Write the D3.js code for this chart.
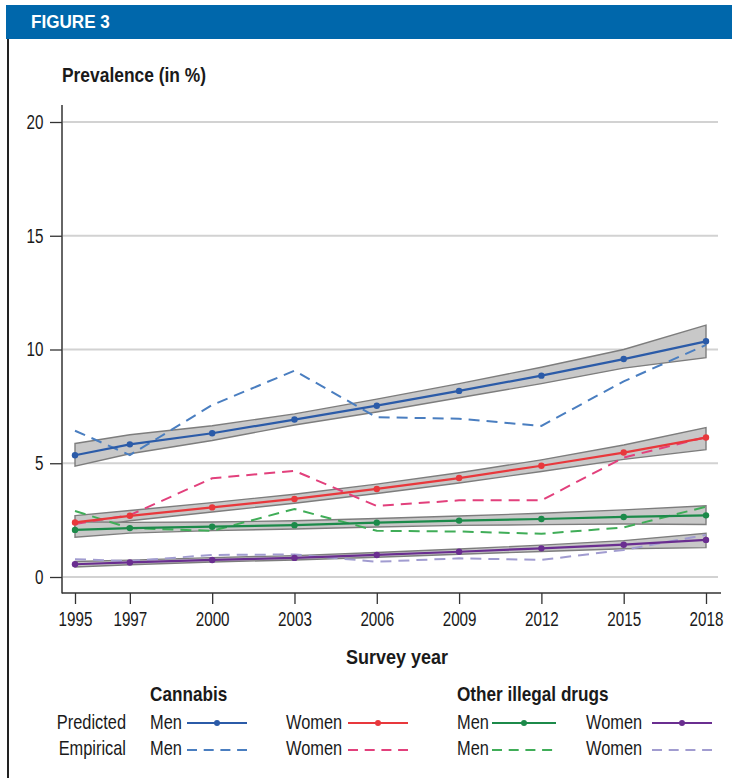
<!DOCTYPE html>
<html>
<head>
<meta charset="utf-8">
<script src="https://cdn.jsdelivr.net/npm/d3@7"></script>
<style>
  html, body { margin: 0; padding: 0; background: #fff; }
  svg { display: block; }
  text { font-family: "Liberation Sans", Arial, Helvetica, sans-serif; fill: #1a1a1a; }
</style>
</head>
<body>
<svg id="chart" width="732" height="778"></svg>
<script>
// Survey years and prevalence estimates (in %)
const years = [1995, 1997, 2000, 2003, 2006, 2009, 2012, 2015, 2018];
const yTicks = [0, 5, 10, 15, 20];

const cannabisMenPred  = [5.35, 5.83, 6.32, 6.92, 7.53, 8.18, 8.85, 9.58, 10.36];
const cannabisMenLo    = [4.87, 5.42, 6.00, 6.68, 7.25, 7.88, 8.50, 9.18, 9.64];
const cannabisMenHi    = [5.87, 6.25, 6.65, 7.17, 7.82, 8.50, 9.22, 10.00, 11.07];
const cannabisMenEmp   = [6.43, 5.36, 7.56, 9.07, 7.02, 6.96, 6.64, 8.60, 10.20];

const cannabisWomenPred = [2.40, 2.69, 3.06, 3.43, 3.87, 4.35, 4.89, 5.47, 6.13];
const cannabisWomenLo   = [2.10, 2.47, 2.86, 3.24, 3.67, 4.13, 4.64, 5.17, 5.60];
const cannabisWomenHi   = [2.70, 2.92, 3.27, 3.64, 4.08, 4.58, 5.15, 5.80, 6.57];
const cannabisWomenEmp  = [2.33, 2.72, 4.34, 4.67, 3.12, 3.37, 3.37, 5.25, 6.15];

const otherMenPred = [2.07, 2.15, 2.21, 2.28, 2.39, 2.48, 2.55, 2.64, 2.71];
const otherMenLo   = [1.75, 1.93, 2.04, 2.11, 2.20, 2.27, 2.30, 2.33, 2.31];
const otherMenHi   = [2.43, 2.40, 2.42, 2.47, 2.57, 2.68, 2.80, 2.95, 3.13];
const otherMenEmp  = [2.90, 2.15, 2.03, 2.99, 2.03, 2.00, 1.90, 2.18, 3.09];

const otherWomenPred = [0.56, 0.64, 0.75, 0.84, 0.97, 1.11, 1.26, 1.42, 1.63];
const otherWomenLo   = [0.44, 0.54, 0.66, 0.75, 0.87, 1.00, 1.12, 1.24, 1.29];
const otherWomenHi   = [0.68, 0.74, 0.85, 0.94, 1.08, 1.23, 1.40, 1.60, 1.92];
const otherWomenEmp  = [0.78, 0.70, 0.97, 0.99, 0.67, 0.82, 0.75, 1.19, 1.85];

const series = [
  { pred: cannabisMenPred,   lo: cannabisMenLo,   hi: cannabisMenHi,   emp: cannabisMenEmp,   cPred: "#2b5ba8", cEmp: "#4a7ec0" },
  { pred: cannabisWomenPred, lo: cannabisWomenLo, hi: cannabisWomenHi, emp: cannabisWomenEmp, cPred: "#e8383c", cEmp: "#e2407c" },
  { pred: otherMenPred,      lo: otherMenLo,      hi: otherMenHi,      emp: otherMenEmp,      cPred: "#1c8a4a", cEmp: "#40ad58" },
  { pred: otherWomenPred,    lo: otherWomenLo,    hi: otherWomenHi,    emp: otherWomenEmp,    cPred: "#6a2e90", cEmp: "#a19cd0" }
];

const svg = d3.select("#chart");

// Condensed-looking label: horizontally squeezed text anchored at (x, y)
function label(parent, x, y, txt, size, opts = {}) {
  const sx = opts.sx || 0.82;
  return parent.append("text")
    .attr("transform", `translate(${x},${y}) scale(${sx},1)`)
    .attr("text-anchor", opts.anchor || "start")
    .style("font-size", size + "px")
    .style("font-weight", opts.bold ? "bold" : "normal")
    .style("fill", opts.fill || "#1a1a1a")
    .text(txt);
}

// Header band
svg.append("rect").attr("x", 6).attr("y", 5).attr("width", 726).attr("height", 34).attr("fill", "#0067ab");
label(svg, 31, 28, "FIGURE 3", 18, { bold: true, sx: 0.95, fill: "#fff" });
// Left frame rule
svg.append("rect").attr("x", 7).attr("y", 39).attr("width", 2).attr("height", 739).attr("fill", "#222");

const x = d3.scaleLinear().domain([1995, 2018]).range([75, 706]);
const y = d3.scaleLinear().domain([0, 20]).range([577, 122]);

// Gridlines
svg.append("g").selectAll("line").data(yTicks).join("line")
  .attr("x1", 63).attr("x2", 718)
  .attr("y1", d => y(d)).attr("y2", d => y(d))
  .attr("stroke", "#d2d2d2").attr("stroke-width", 2);

// Axes
const tickSx = 0.78;
const tickFont = "19.5px";
const yAxis = svg.append("g").attr("transform", "translate(62,0)")
  .call(d3.axisLeft(y).tickValues(yTicks).tickSize(12).tickPadding(5).tickSizeOuter(0));
yAxis.select(".domain").remove();
yAxis.selectAll("line").attr("stroke", "#333").attr("stroke-width", 1.3);
yAxis.selectAll("text").style("font-size", tickFont).attr("fill", "#1a1a1a")
  .attr("x", -18.5 / tickSx).attr("transform", `scale(${tickSx},1)`);

const xAxis = svg.append("g").attr("transform", "translate(0,593)")
  .call(d3.axisBottom(x).tickValues(years).tickFormat(d3.format("d")).tickSize(11).tickPadding(8).tickSizeOuter(0));
xAxis.select(".domain").remove();
xAxis.selectAll("line").attr("stroke", "#333").attr("stroke-width", 1.3);
xAxis.selectAll("text").style("font-size", tickFont).attr("fill", "#1a1a1a")
  .attr("transform", `scale(${tickSx},1)`);

svg.append("line").attr("x1", 62).attr("x2", 62).attr("y1", 105).attr("y2", 593.5)
  .attr("stroke", "#333").attr("stroke-width", 1.5);
svg.append("line").attr("x1", 62).attr("x2", 721).attr("y1", 593).attr("y2", 593)
  .attr("stroke", "#333").attr("stroke-width", 1.5);

// Axis titles
label(svg, 62, 82, "Prevalence (in %)", 20, { bold: true, sx: 0.87 });
label(svg, 397, 664, "Survey year", 20, { bold: true, sx: 0.9, anchor: "middle" });

// Confidence bands
const area = d3.area().x(d => x(d.year)).y0(d => y(d.lo)).y1(d => y(d.hi));
const line = d3.line().x(d => x(d.year)).y(d => y(d.v));

const bands = svg.append("g");
series.forEach(s => {
  bands.append("path")
    .datum(years.map((yr, i) => ({ year: yr, lo: s.lo[i], hi: s.hi[i] })))
    .attr("d", area).attr("fill", "#c8c8c8").attr("stroke", "#7d7d7d").attr("stroke-width", 1.4);
});

// Empirical (dashed)
series.forEach(s => {
  svg.append("path")
    .datum(years.map((yr, i) => ({ year: yr, v: s.emp[i] })))
    .attr("d", line).attr("fill", "none").attr("stroke", s.cEmp)
    .attr("stroke-width", 2).attr("stroke-dasharray", "11,7");
});

// Predicted (solid with markers)
series.forEach(s => {
  const pts = years.map((yr, i) => ({ year: yr, v: s.pred[i] }));
  svg.append("path").datum(pts).attr("d", line).attr("fill", "none")
    .attr("stroke", s.cPred).attr("stroke-width", 2.2);
  svg.append("g").selectAll("circle").data(pts).join("circle")
    .attr("cx", d => x(d.year)).attr("cy", d => y(d.v)).attr("r", 3.2).attr("fill", s.cPred);
});

// Legend
const lg = svg.append("g");
label(lg, 150, 701, "Cannabis", 19.5, { bold: true, sx: 0.88 });
label(lg, 457, 701, "Other illegal drugs", 19.5, { bold: true, sx: 0.88 });
label(lg, 126, 729, "Predicted", 20, { anchor: "end" });
label(lg, 126, 755, "Empirical", 20, { anchor: "end" });

const legendItems = [
  { label: "Men",   tx: 150, x1: 187, x2: 247, s: series[0] },
  { label: "Women", tx: 286, x1: 348, x2: 408, s: series[1] },
  { label: "Men",   tx: 457, x1: 492, x2: 556, s: series[2] },
  { label: "Women", tx: 586, x1: 652, x2: 712, s: series[3] }
];
legendItems.forEach(it => {
  label(lg, it.tx, 729, it.label, 20);
  label(lg, it.tx, 755, it.label, 20);
  lg.append("line").attr("x1", it.x1).attr("x2", it.x2).attr("y1", 723).attr("y2", 723)
    .attr("stroke", it.s.cPred).attr("stroke-width", 2.2);
  lg.append("circle").attr("cx", (it.x1 + it.x2) / 2).attr("cy", 723).attr("r", 3).attr("fill", it.s.cPred);
  lg.append("line").attr("x1", it.x1).attr("x2", it.x2).attr("y1", 750).attr("y2", 750)
    .attr("stroke", it.s.cEmp).attr("stroke-width", 2.2).attr("stroke-dasharray", "10,6.7");
});
</script>
</body>
</html>
